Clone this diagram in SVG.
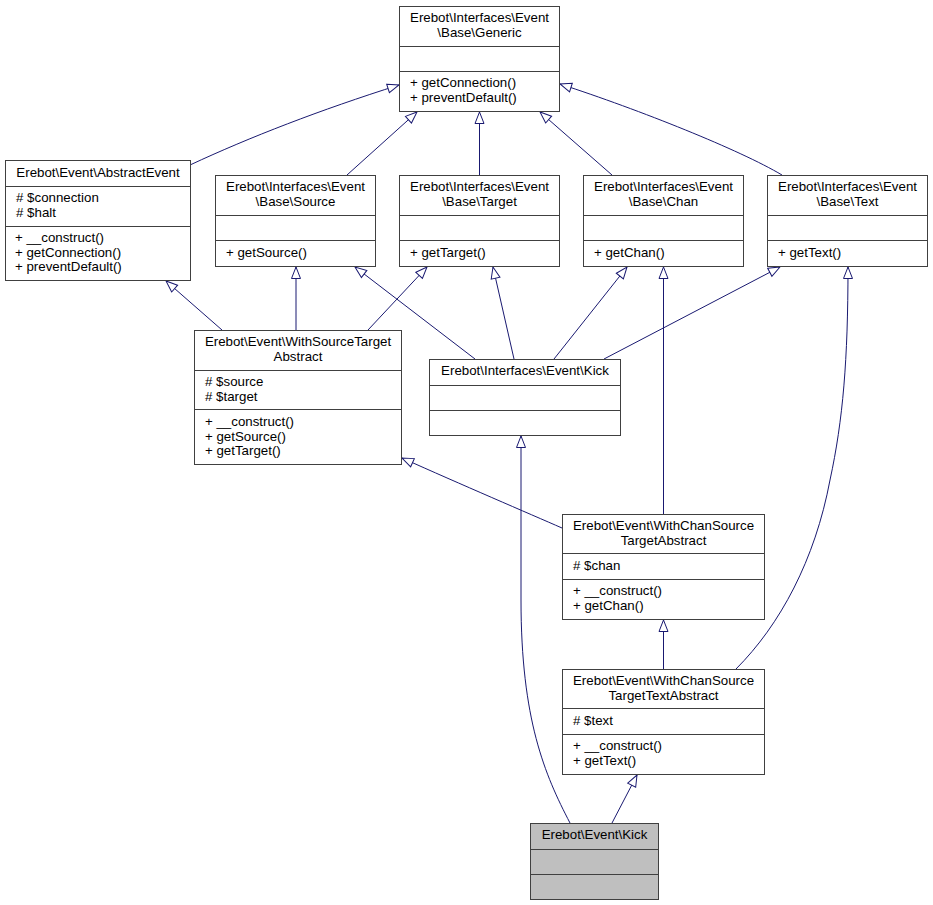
<svg xmlns="http://www.w3.org/2000/svg" width="933" height="905" viewBox="0 0 933 905">
<style>
.box{fill:#ffffff;stroke:#404040;stroke-width:1}
.cur{fill:#bfbfbf;stroke:#404040;stroke-width:1}
.div{stroke:#404040;stroke-width:1;fill:none}
text{font-family:"Liberation Sans",Arial,Helvetica,sans-serif;font-size:13.3px;fill:#000}
.c{text-anchor:middle}
.e{fill:none;stroke:#191970;stroke-width:1;marker-end:url(#inh)}
</style>
<defs>
<marker id="inh" markerUnits="userSpaceOnUse" markerWidth="15" markerHeight="13" refX="12.5" refY="6" orient="auto" overflow="visible">
<path d="M1,1.5 L12.5,6 L1,10.5 Z" fill="#ffffff" stroke="#191970" stroke-width="1"/>
</marker>
</defs>
<rect width="933" height="905" fill="#ffffff"/>

<g id="edges">
<path class="e" d="M190,165 C250,137 320,110 399,85"/>
<path class="e" d="M347,175 L417,112"/>
<path class="e" d="M479.5,175 L479.5,112"/>
<path class="e" d="M612,175 L540,112"/>
<path class="e" d="M782,175 C740,150 640,110 560,84"/>
<path class="e" d="M222,330 L166,281"/>
<path class="e" d="M296,330 L296,267"/>
<path class="e" d="M368,330 L427,267"/>
<path class="e" d="M475,359 L355,267"/>
<path class="e" d="M514,359 L493,267"/>
<path class="e" d="M554,359 L627,267"/>
<path class="e" d="M604,359 L780,267"/>
<path class="e" d="M663.5,514 L663.5,267"/>
<path class="e" d="M562,528 C530,514 460,484 402,458"/>
<path class="e" d="M663.5,669 L663.5,620"/>
<path class="e" d="M736,669 C780,625 815,560 830,480 C843,420 848,360 848,267"/>
<path class="e" d="M570,823 C545,775 521,720 521,600 L521,436"/>
<path class="e" d="M612,823 L637,775"/>
</g>

<g id="generic">
<rect class="box" x="399.5" y="6.5" width="160" height="105"/>
<path class="div" d="M399.5,46.5 H559.5 M399.5,71.5 H559.5"/>
<text class="c" x="479.5" y="22">Erebot\Interfaces\Event</text>
<text class="c" x="479.5" y="37">\Base\Generic</text>
<text x="410" y="87">+ getConnection()</text>
<text x="410" y="102">+ preventDefault()</text>
</g>

<g id="abstractevent">
<rect class="box" x="5.5" y="160.5" width="185" height="120"/>
<path class="div" d="M5.5,186.5 H190.5 M5.5,226.5 H190.5"/>
<text class="c" x="98" y="177">Erebot\Event\AbstractEvent</text>
<text x="16" y="202"># $connection</text>
<text x="16" y="217"># $halt</text>
<text x="15" y="242">+ __construct()</text>
<text x="15" y="257">+ getConnection()</text>
<text x="15" y="271">+ preventDefault()</text>
</g>

<g id="source">
<rect class="box" x="215.5" y="175.5" width="160" height="91"/>
<path class="div" d="M215.5,215.5 H375.5 M215.5,240.5 H375.5"/>
<text class="c" x="295.5" y="191">Erebot\Interfaces\Event</text>
<text class="c" x="295.5" y="206">\Base\Source</text>
<text x="226" y="257">+ getSource()</text>
</g>

<g id="target">
<rect class="box" x="399.5" y="175.5" width="160" height="91"/>
<path class="div" d="M399.5,215.5 H559.5 M399.5,240.5 H559.5"/>
<text class="c" x="479.5" y="191">Erebot\Interfaces\Event</text>
<text class="c" x="479.5" y="206">\Base\Target</text>
<text x="410" y="257">+ getTarget()</text>
</g>

<g id="chan">
<rect class="box" x="583.5" y="175.5" width="160" height="91"/>
<path class="div" d="M583.5,215.5 H743.5 M583.5,240.5 H743.5"/>
<text class="c" x="663.5" y="191">Erebot\Interfaces\Event</text>
<text class="c" x="663.5" y="206">\Base\Chan</text>
<text x="594" y="257">+ getChan()</text>
</g>

<g id="text">
<rect class="box" x="767.5" y="175.5" width="160" height="91"/>
<path class="div" d="M767.5,215.5 H927.5 M767.5,240.5 H927.5"/>
<text class="c" x="847.5" y="191">Erebot\Interfaces\Event</text>
<text class="c" x="847.5" y="206">\Base\Text</text>
<text x="778" y="257">+ getText()</text>
</g>

<g id="withsourcetarget">
<rect class="box" x="194.5" y="330.5" width="207" height="134"/>
<path class="div" d="M194.5,370.5 H401.5 M194.5,409.5 H401.5"/>
<text class="c" x="298" y="346">Erebot\Event\WithSourceTarget</text>
<text class="c" x="298" y="361">Abstract</text>
<text x="205" y="386"># $source</text>
<text x="205" y="401"># $target</text>
<text x="205" y="426">+ __construct()</text>
<text x="205" y="441">+ getSource()</text>
<text x="205" y="455">+ getTarget()</text>
</g>

<g id="ikick">
<rect class="box" x="429.5" y="359.5" width="191" height="76"/>
<path class="div" d="M429.5,385.5 H620.5 M429.5,410.5 H620.5"/>
<text class="c" x="525" y="375">Erebot\Interfaces\Event\Kick</text>
</g>

<g id="withchan">
<rect class="box" x="562.5" y="514.5" width="202" height="105"/>
<path class="div" d="M562.5,553.5 H764.5 M562.5,579.5 H764.5"/>
<text class="c" x="663.5" y="530">Erebot\Event\WithChanSource</text>
<text class="c" x="663.5" y="545">TargetAbstract</text>
<text x="573" y="570"># $chan</text>
<text x="573" y="595">+ __construct()</text>
<text x="573" y="610">+ getChan()</text>
</g>

<g id="withchantext">
<rect class="box" x="562.5" y="669.5" width="202" height="105"/>
<path class="div" d="M562.5,708.5 H764.5 M562.5,734.5 H764.5"/>
<text class="c" x="663.5" y="685">Erebot\Event\WithChanSource</text>
<text class="c" x="663.5" y="700">TargetTextAbstract</text>
<text x="573" y="725"># $text</text>
<text x="573" y="750">+ __construct()</text>
<text x="573" y="765">+ getText()</text>
</g>

<g id="kick">
<rect class="cur" x="530.5" y="823.5" width="128" height="76"/>
<path class="div" d="M530.5,849.5 H658.5 M530.5,874.5 H658.5"/>
<text class="c" x="594.5" y="839">Erebot\Event\Kick</text>
</g>
</svg>
